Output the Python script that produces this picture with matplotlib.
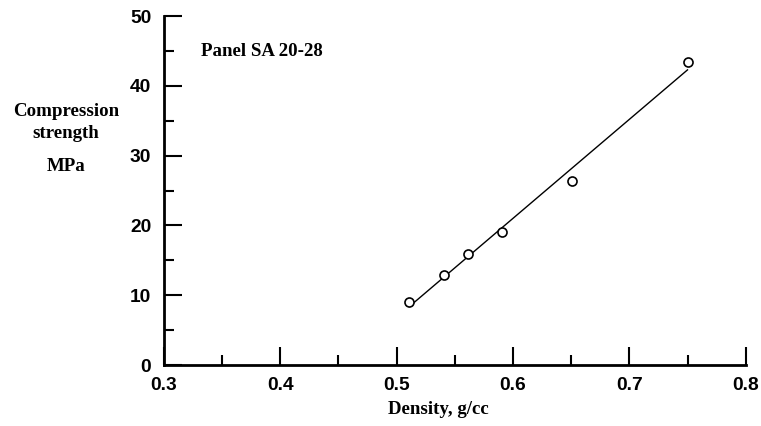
import matplotlib.pyplot as plt
from matplotlib.ticker import MultipleLocator
import numpy as np

# density (g/cc) and compression strength (MPa), panel SA 20-28
density = [0.511, 0.541, 0.561, 0.591, 0.651, 0.750]
strength = [9.0, 12.85, 15.95, 19.05, 26.4, 43.45]

x_ticks = [0.3, 0.4, 0.5, 0.6, 0.7, 0.8]
y_ticks = [0, 10, 20, 30, 40, 50]

W, H = 761, 426
fig = plt.figure(figsize=(W / 100, H / 100), dpi=100)
ax = fig.add_axes([163.7 / W, 1 - 365 / H, 582 / W, 349 / H])

# regression line over the data range
k, b = np.polyfit(density, strength, 1)
fx = np.array([min(density), max(density)])
ax.plot(fx, k * fx + b, color="black", lw=1)
ax.plot(density, strength, "o", mfc="white", mec="black", ms=6.5, mew=1.2)

ax.set_xlim(0.3, 0.8)
ax.set_ylim(0, 50)
ax.set_xticks(x_ticks)
ax.set_yticks(y_ticks)
ax.xaxis.set_minor_locator(MultipleLocator(0.05))
ax.yaxis.set_minor_locator(MultipleLocator(5))
ax.set_xticklabels(["%.1f" % v for v in x_ticks])

for s in ["top", "right"]:
    ax.spines[s].set_visible(False)
for s in ["left", "bottom"]:
    ax.spines[s].set_linewidth(2)

ax.tick_params(which="major", direction="in", length=13, width=1.5, pad=9)
ax.tick_params(which="minor", direction="in", length=7, width=1.5)
for lab in ax.get_xticklabels() + ax.get_yticklabels():
    lab.set_fontfamily("Liberation Sans")
    lab.set_fontweight("bold")
    lab.set_fontsize(13.8)

serif = dict(family="Liberation Serif", weight="bold", size=13.6, ha="center", va="center")
fig.text(66 / W, 1 - 112 / H, "Compression", **serif)
fig.text(66 / W, 1 - 133 / H, "strength", **serif)
fig.text(66 / W, 1 - 166 / H, "MPa", **serif)
fig.text(262 / W, 1 - 52 / H, "Panel SA 20-28", **serif)
fig.text(438 / W, 1 - 409 / H, "Density, g/cc", **serif)

fig.savefig("out.png", dpi=100)
